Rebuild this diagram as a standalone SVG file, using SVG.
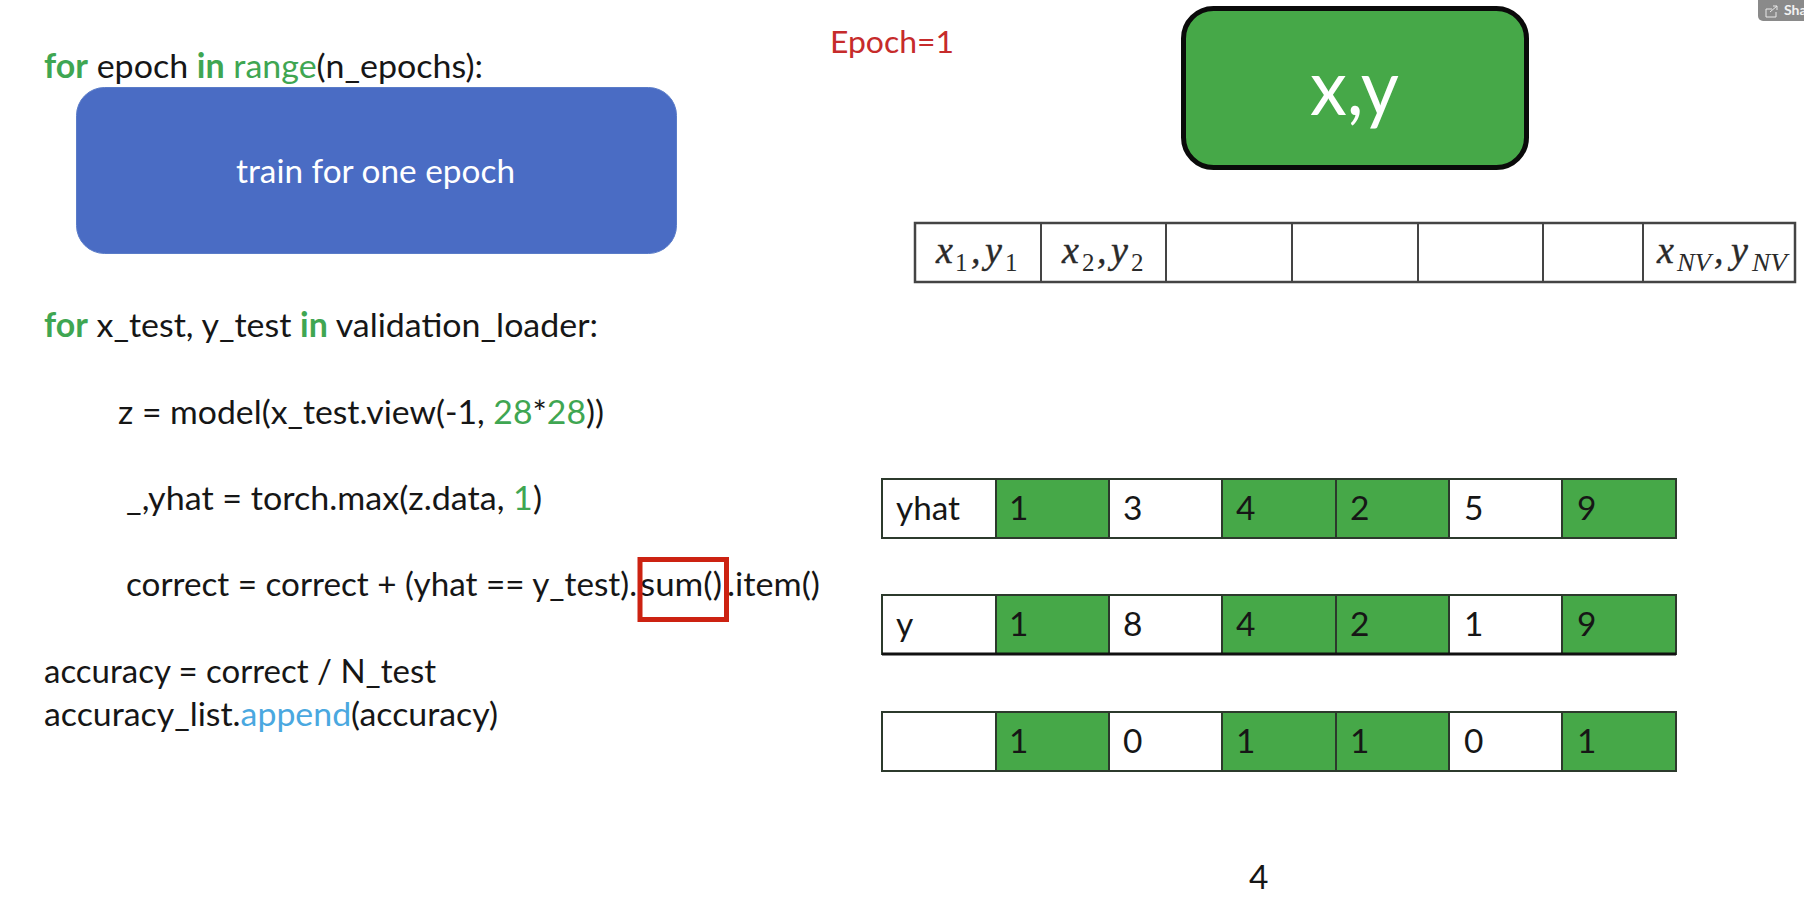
<svg xmlns="http://www.w3.org/2000/svg" width="1804" height="909" viewBox="0 0 1804 909">
<style>
text{font-family:Lato,"Liberation Sans",sans-serif;font-size:33.500px;fill:#161616}
.k{fill:#3fa652}
.kb{fill:#3fa652;font-weight:700}
.b{fill:#4aa8e0}
.w{fill:#fff}
.cell{stroke:#2c3a2c;stroke-width:2}
.g{fill:#46a848}
.e{fill:#fff}
.m{font-family:"Liberation Serif",serif;font-style:italic;font-size:38px;fill:#2a2a2a;stroke:#2a2a2a;stroke-width:.4px}
.s{font-family:"Liberation Serif",serif;font-size:25px;fill:#2a2a2a}
.si{font-family:"Liberation Serif",serif;font-style:italic;font-size:25px;fill:#2a2a2a}
</style>
<rect width="1804" height="909" fill="#fff"/>
<g id="connectors"/>
<g id="code">
<text x="44" y="78" textLength="439" lengthAdjust="spacingAndGlyphs"><tspan class="kb">for</tspan> epoch <tspan class="kb">in</tspan> <tspan class="k">range</tspan>(n_epochs):</text>
<text x="44" y="337" textLength="554" lengthAdjust="spacingAndGlyphs"><tspan class="kb">for</tspan> x_test, y_test <tspan class="kb">in</tspan> validation_loader:</text>
<text x="118" y="424" textLength="486" lengthAdjust="spacingAndGlyphs">z = model(x_test.view(-1, <tspan class="k">28</tspan>*<tspan class="k">28</tspan>))</text>
<text x="126" y="510" textLength="416" lengthAdjust="spacingAndGlyphs">_,yhat = torch.max(z.data, <tspan class="k">1</tspan>)</text>
<text y="596"><tspan x="126" textLength="511" lengthAdjust="spacingAndGlyphs">correct = correct + (yhat == y_test).</tspan><tspan x="640" textLength="82" lengthAdjust="spacingAndGlyphs">sum()</tspan><tspan x="727" textLength="93" lengthAdjust="spacingAndGlyphs">.item()</tspan></text>
<text x="44" y="683" textLength="392" lengthAdjust="spacingAndGlyphs">accuracy = correct / N_test</text>
<text x="44" y="726" textLength="454" lengthAdjust="spacingAndGlyphs">accuracy_list.<tspan class="b">append</tspan>(accuracy)</text>
</g>
<g id="train-box">
<rect x="76.500" y="87.500" width="600" height="166" rx="28" fill="#4a6cc4" stroke="#5a7cc8" stroke-width="1"/>
<text class="w" x="236" y="183" textLength="279" lengthAdjust="spacingAndGlyphs">train for one epoch</text>
</g>
<g id="sum-highlight">
<rect x="640" y="559.500" width="86.500" height="60" fill="none" stroke="#cc2211" stroke-width="5"/>
</g>
<g id="epoch-label">
<text x="830" y="53" textLength="124" lengthAdjust="spacingAndGlyphs" style="font-size:31px;fill:#c62b2b">Epoch=1</text>
</g>
<g id="xy-box">
<rect x="1183.500" y="8.500" width="343" height="159" rx="30" fill="#46a848" stroke="#0a0a0a" stroke-width="5"/>
<text class="w" x="1310" y="115" textLength="89" lengthAdjust="spacingAndGlyphs" style="font-size:78px">x,y</text>
</g>
<g id="dataset-table">
<rect x="915" y="223" width="880" height="59" fill="#fff" stroke="#444" stroke-width="2.500"/>
<path d="M1041 223V282M1166 223V282M1292 223V282M1418 223V282M1543 223V282M1643 223V282" stroke="#444" stroke-width="2" fill="none"/>
<text y="263"><tspan class="m" x="936">x</tspan><tspan class="s" x="955" y="271">1</tspan><tspan class="m" x="971" y="263">,</tspan><tspan class="m" x="985" y="263">y</tspan><tspan class="s" x="1005" y="271">1</tspan></text>
<text y="263"><tspan class="m" x="1062">x</tspan><tspan class="s" x="1082" y="271">2</tspan><tspan class="m" x="1097" y="263">,</tspan><tspan class="m" x="1111" y="263">y</tspan><tspan class="s" x="1131" y="271">2</tspan></text>
<text y="263"><tspan class="m" x="1657">x</tspan><tspan class="si" x="1677" y="271" textLength="34" lengthAdjust="spacingAndGlyphs">NV</tspan><tspan class="m" x="1714" y="263">,</tspan><tspan class="m" x="1731" y="263">y</tspan><tspan class="si" x="1752" y="271" textLength="35" lengthAdjust="spacingAndGlyphs">NV</tspan></text>
</g>
<g id="row-yhat">
<rect class="cell e" x="882" y="479" width="114" height="59"/><rect class="cell g" x="996" y="479" width="113" height="59"/><rect class="cell e" x="1109" y="479" width="113" height="59"/><rect class="cell g" x="1222" y="479" width="114" height="59"/><rect class="cell g" x="1336" y="479" width="113" height="59"/><rect class="cell e" x="1449" y="479" width="113" height="59"/><rect class="cell g" x="1562" y="479" width="114" height="59"/>
<text x="896" y="520" textLength="64" lengthAdjust="spacingAndGlyphs">yhat</text><text x="1009" y="520">1</text><text x="1123" y="520">3</text><text x="1236" y="520">4</text><text x="1350" y="520">2</text><text x="1464" y="520">5</text><text x="1577" y="520">9</text>
</g>
<g id="row-y">
<rect class="cell e" x="882" y="595" width="114" height="59"/><rect class="cell g" x="996" y="595" width="113" height="59"/><rect class="cell e" x="1109" y="595" width="113" height="59"/><rect class="cell g" x="1222" y="595" width="114" height="59"/><rect class="cell g" x="1336" y="595" width="113" height="59"/><rect class="cell e" x="1449" y="595" width="113" height="59"/><rect class="cell g" x="1562" y="595" width="114" height="59"/>
<path d="M882 654H1676" stroke="#111" stroke-width="3" fill="none"/>
<text x="896" y="636">y</text><text x="1009" y="636">1</text><text x="1123" y="636">8</text><text x="1236" y="636">4</text><text x="1350" y="636">2</text><text x="1464" y="636">1</text><text x="1577" y="636">9</text>
</g>
<g id="row-result">
<rect class="cell e" x="882" y="712" width="114" height="59"/><rect class="cell g" x="996" y="712" width="113" height="59"/><rect class="cell e" x="1109" y="712" width="113" height="59"/><rect class="cell g" x="1222" y="712" width="114" height="59"/><rect class="cell g" x="1336" y="712" width="113" height="59"/><rect class="cell e" x="1449" y="712" width="113" height="59"/><rect class="cell g" x="1562" y="712" width="114" height="59"/>
<text x="1009" y="753">1</text><text x="1123" y="753">0</text><text x="1236" y="753">1</text><text x="1350" y="753">1</text><text x="1464" y="753">0</text><text x="1577" y="753">1</text>
</g>
<g id="total">
<text x="1249" y="889">4</text>
</g>
<g id="share-button">
<rect x="1758" y="-8" width="60" height="29" rx="5" fill="#8a8a8a"/>
<path d="M1772 9H1766V17H1776V12M1770 12L1777 6M1773 6H1777V10" fill="none" stroke="#e8e8e8" stroke-width="1"/>
<text x="1784" y="15" style="font-size:14px;font-weight:700;fill:#f2f2f2">Sha</text>
</g>
</svg>
